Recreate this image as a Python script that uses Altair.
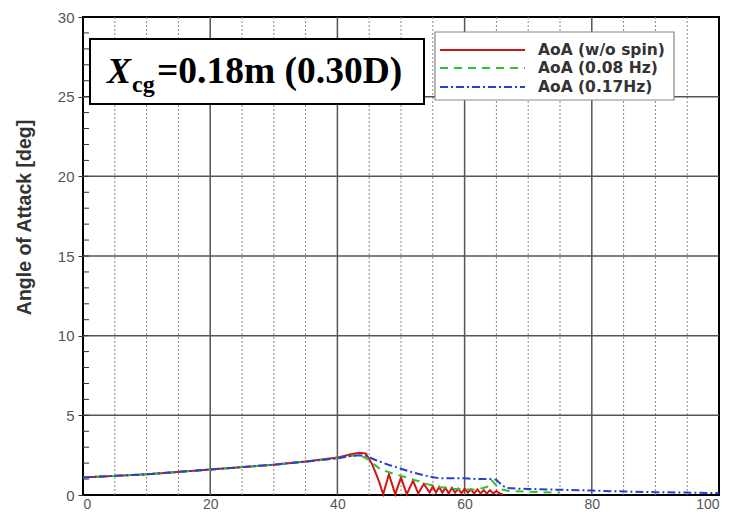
import altair as alt
import pandas as pd

# ---- data ----
series_names = ["AoA (w/o spin)", "AoA (0.08 Hz)", "AoA (0.17Hz)"]
series_colors = ["#d41414", "#2fbf2f", "#2a3fd0"]
series_dashes = [[1, 0], [8, 6], [8, 3, 2, 3]]

x_nospin = [0, 5, 10, 15, 20, 25, 30, 35, 40, 42, 43.5, 44.5, 45.5, 46.5, 47.2, 48.1, 49.1, 50.0,
            50.9, 51.9, 52.7, 53.6, 54.5, 55.0, 55.5, 56.0, 56.5, 57.0, 57.5, 58.0, 58.5, 59.0,
            59.5, 60.0, 60.5, 61.0, 61.5, 62.0, 62.5, 63.0, 63.5, 64.0, 64.5, 65.0, 65.5, 66.0]
y_nospin = [1.1, 1.2, 1.3, 1.45, 1.6, 1.75, 1.9, 2.1, 2.35, 2.55, 2.65, 2.6, 1.9, 0.9, 0.05, 1.3, 0.05, 1.1,
            0.05, 0.9, 0.1, 0.7, 0.15, 0.55, 0.15, 0.5, 0.15, 0.45, 0.1, 0.45, 0.15, 0.4,
            0.1, 0.4, 0.15, 0.35, 0.1, 0.35, 0.1, 0.3, 0.1, 0.3, 0.1, 0.25, 0.1, 0.05]

x_008 = [0, 5, 10, 15, 20, 25, 30, 35, 40, 42, 43.5, 45, 46, 47, 48, 49, 50, 51, 52, 53, 54, 55,
         56, 57, 58, 60, 62, 63.5, 64.3, 65, 65.8, 67, 70, 75]
y_008 = [1.1, 1.2, 1.3, 1.45, 1.6, 1.75, 1.9, 2.1, 2.3, 2.45, 2.5, 2.2, 1.85, 1.55, 1.45, 1.3, 1.2, 1.1,
         0.95, 0.85, 0.7, 0.6, 0.5, 0.45, 0.4, 0.35, 0.35, 0.5, 0.9, 0.6, 0.35, 0.25, 0.2, 0.15]

x_017 = [0, 5, 10, 15, 20, 25, 30, 35, 40, 42, 43.5, 44.5, 46, 48, 50, 52, 54, 56, 58, 60, 62, 64,
         65, 65.8, 66.5, 68, 70, 75, 80, 85, 90, 95, 100]
y_017 = [1.1, 1.2, 1.3, 1.45, 1.6, 1.75, 1.9, 2.1, 2.3, 2.45, 2.5, 2.45, 2.2, 1.9, 1.65, 1.4, 1.2, 1.05,
         1.05, 1.05, 1.0, 1.0, 0.95, 0.65, 0.45, 0.4, 0.38, 0.33, 0.28, 0.22, 0.18, 0.15, 0.12]

x_ticks = [0, 20, 40, 60, 80, 100]
y_ticks = [0, 5, 10, 15, 20, 25, 30]
x_grid_major = [20, 40, 60, 80]
x_grid_minor = [5, 10, 15, 25, 30, 35, 45, 50, 55, 65, 70, 75, 85, 90, 95]
y_grid_major = [5, 10, 15, 20, 25]
y_minor_ticks = [v for v in range(1, 30)]

label_x = "X"
label_sub = "cg"
label_rest = "=0.18m (0.30D)"
y_title = "Angle of Attack [deg]"

# ---- build tables ----
rows = []
for name, xs, ys in [(series_names[0], x_nospin, y_nospin),
                     (series_names[1], x_008, y_008),
                     (series_names[2], x_017, y_017)]:
    for i, (a, b) in enumerate(zip(xs, ys)):
        rows.append({"series": name, "t": a, "aoa": b, "idx": i})
df = pd.DataFrame(rows)

W, H = 636, 478
xscale = alt.Scale(domain=[0, 100], nice=False)
yscale = alt.Scale(domain=[0, 30], nice=False)

X_AXIS = alt.Axis(values=x_ticks, title=None, grid=False, ticks=False, domain=False,
                  labelFontSize=14, labelColor="#555", labelFont="Liberation Sans",
                  labelPadding=2)
Y_AXIS = alt.Axis(values=y_ticks, title=y_title, grid=False, tickSize=5, tickColor="#333",
                  domain=False, labelFontSize=15, labelColor="#555",
                  labelFont="Liberation Sans", labelPadding=4,
                  titleFont="Liberation Sans", titleFontSize=19.5, titleFontWeight="bold",
                  titleColor="#333", titleX=-59, titleY=200, titleAngle=-90,
                  titleAlign="center", titleBaseline="middle")

vmaj = alt.Chart(pd.DataFrame({"v": x_grid_major})).mark_rule(color="#555", strokeWidth=1.5).encode(
    x=alt.X("v:Q", scale=xscale, axis=X_AXIS))
vmin = alt.Chart(pd.DataFrame({"v": x_grid_minor})).mark_rule(color="#888", strokeWidth=1, strokeDash=[2, 2]).encode(
    x=alt.X("v:Q", scale=xscale, axis=X_AXIS))
hmaj = alt.Chart(pd.DataFrame({"v": y_grid_major})).mark_rule(color="#555", strokeWidth=1.5).encode(
    y=alt.Y("v:Q", scale=yscale, axis=Y_AXIS))
ytk = alt.Chart(pd.DataFrame({"v": y_minor_ticks})).mark_rule(color="#333", strokeWidth=1).encode(
    y=alt.Y("v:Q", scale=yscale, axis=Y_AXIS), x=alt.value(0), x2=alt.value(6))

lines = alt.Chart(df).mark_line(strokeWidth=2).encode(
    x=alt.X("t:Q", scale=xscale, axis=X_AXIS),
    y=alt.Y("aoa:Q", scale=yscale, axis=Y_AXIS),
    color=alt.Color("series:N", scale=alt.Scale(domain=series_names, range=series_colors), legend=None),
    strokeDash=alt.StrokeDash("series:N", scale=alt.Scale(domain=series_names, range=series_dashes),
                              legend=None),
    order=alt.Order("idx:Q"),
)

one = alt.Data(values=[{"a": 1}])
box = alt.Chart(one).mark_rect(fill="white", stroke="black", strokeWidth=2).encode(
    x=alt.value(7), x2=alt.value(341), y=alt.value(22), y2=alt.value(87))
t1 = alt.Chart(one).mark_text(text=label_x, font="Liberation Serif", fontSize=36, fontWeight="bold",
                              fontStyle="italic", align="left", baseline="alphabetic", color="black").encode(
    x=alt.value(24), y=alt.value(66))
t2 = alt.Chart(one).mark_text(text=label_sub, font="Liberation Serif", fontSize=24, fontWeight="bold",
                              align="left", baseline="alphabetic", color="black").encode(
    x=alt.value(49), y=alt.value(75))
t3 = alt.Chart(one).mark_text(text=label_rest, font="Liberation Serif", fontSize=37.5, fontWeight="bold",
                              align="left", baseline="alphabetic", color="black").encode(
    x=alt.value(74), y=alt.value(66))

# legend drawn by hand
leg_box = alt.Chart(one).mark_rect(fill="white", stroke="#888", strokeWidth=1.2).encode(
    x=alt.value(352), x2=alt.value(591), y=alt.value(15), y2=alt.value(83))
leg_layers = [leg_box]
row_y = [33, 51, 70]
for name, col, dash, ry in zip(series_names, series_colors, series_dashes, row_y):
    leg_layers.append(alt.Chart(one).mark_rule(color=col, strokeWidth=2, strokeDash=dash).encode(
        x=alt.value(357), x2=alt.value(442), y=alt.value(ry)))
    leg_layers.append(alt.Chart(one).mark_text(text=name, font="DejaVu Sans", fontSize=15.5,
                                               fontWeight="bold", color="#333", align="left",
                                               baseline="middle").encode(
        x=alt.value(455), y=alt.value(ry)))

chart = alt.layer(vmin, vmaj, hmaj, ytk, lines, box, t1, t2, t3, *leg_layers).properties(
    width=W, height=H,
    autosize=alt.AutoSizeParams(type="none"),
    padding={"left": 75, "top": 9, "right": 7, "bottom": 17},
).configure_view(stroke="black", strokeWidth=2)

chart.save("out.html", embed_options={"renderer": "svg", "actions": False})
